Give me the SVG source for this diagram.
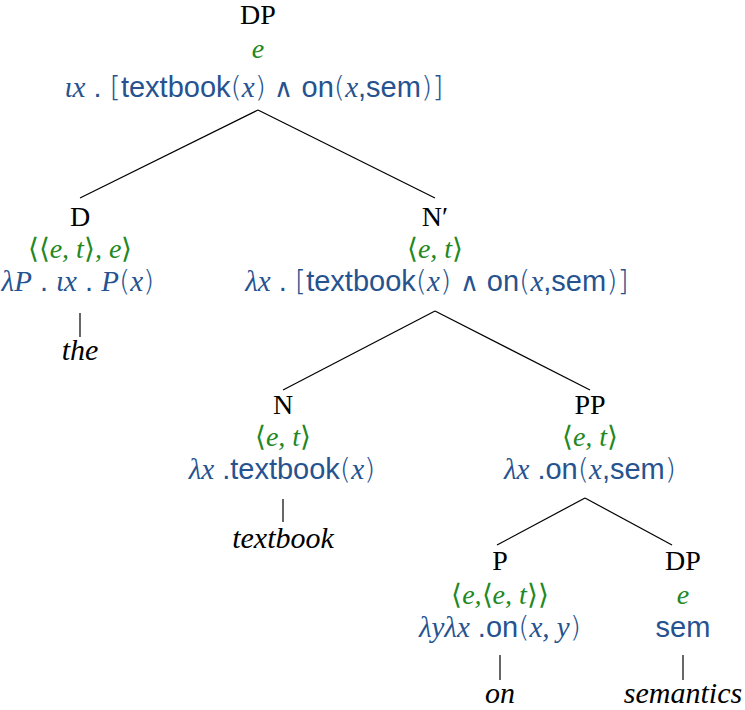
<svg xmlns="http://www.w3.org/2000/svg" width="745" height="710" viewBox="0 0 745 710">
<style>
text{font-size:29px;text-anchor:middle;font-family:"Liberation Serif","DejaVu Serif",serif}
.lab{fill:#000;font-size:28px}
.w{fill:#000;font-style:italic;font-size:30px}
.ty{fill:#228822;font-style:italic;font-size:28px}
.sem{fill:#26538f;font-size:29px}
.i{font-style:italic;font-family:"Liberation Serif","DejaVu Serif",serif}
.s{font-family:"Liberation Sans","DejaVu Sans",sans-serif;font-style:normal}
.u{font-style:normal;font-family:"DejaVu Sans",sans-serif;font-weight:200;font-size:26px}
.ub{font-style:normal;font-family:"DejaVu Sans",sans-serif;font-weight:300}
line{stroke:#000;stroke-width:1.2}
</style>
<g id="connectors">
<line x1="258" y1="110" x2="80" y2="198"/>
<line x1="258" y1="110" x2="435" y2="198"/>
<line x1="80" y1="313" x2="80" y2="337"/>
<line x1="435" y1="311" x2="283" y2="390"/>
<line x1="435" y1="311" x2="590" y2="390"/>
<line x1="283" y1="499" x2="283" y2="522"/>
<line x1="585" y1="498" x2="497" y2="545"/>
<line x1="585" y1="498" x2="672" y2="545"/>
<line x1="500" y1="655" x2="500" y2="680"/>
<line x1="683" y1="655" x2="683" y2="680"/>
</g>
<g id="node-DP-root">
<text class="lab" x="258" y="24">DP</text>
<text class="ty" x="258" y="58">e</text>
<text class="sem" x="254" y="97"><tspan class="i">ιx</tspan><tspan class="s"> . </tspan><tspan class="ub">[</tspan><tspan class="s">textbook</tspan><tspan class="ub">(</tspan><tspan class="i">x</tspan><tspan class="ub">)</tspan><tspan class="u"> ∧ </tspan><tspan class="s">on</tspan><tspan class="ub">(</tspan><tspan class="i">x</tspan><tspan class="s">,sem</tspan><tspan class="ub">)]</tspan></text>
</g>
<g id="node-D">
<text class="lab" x="80" y="226">D</text>
<text class="ty" x="80" y="258"><tspan class="ub">⟨⟨</tspan>e, t<tspan class="ub">⟩</tspan>, e<tspan class="ub">⟩</tspan></text>
<text class="sem" x="78" y="291"><tspan class="i">λP</tspan><tspan class="s"> . </tspan><tspan class="i">ιx</tspan><tspan class="s"> . </tspan><tspan class="i">P</tspan><tspan class="ub">(</tspan><tspan class="i">x</tspan><tspan class="ub">)</tspan></text>
<text class="w" x="80" y="360">the</text>
</g>
<g id="node-Nbar">
<text class="lab" x="435" y="226">N′</text>
<text class="ty" x="435" y="258"><tspan class="ub">⟨</tspan>e, t<tspan class="ub">⟩</tspan></text>
<text class="sem" x="437" y="291"><tspan class="i">λx</tspan><tspan class="s"> . </tspan><tspan class="ub">[</tspan><tspan class="s">textbook</tspan><tspan class="ub">(</tspan><tspan class="i">x</tspan><tspan class="ub">)</tspan><tspan class="u"> ∧ </tspan><tspan class="s">on</tspan><tspan class="ub">(</tspan><tspan class="i">x</tspan><tspan class="s">,sem</tspan><tspan class="ub">)]</tspan></text>
</g>
<g id="node-N">
<text class="lab" x="283" y="414">N</text>
<text class="ty" x="283" y="446"><tspan class="ub">⟨</tspan>e, t<tspan class="ub">⟩</tspan></text>
<text class="sem" x="282" y="479"><tspan class="i">λx</tspan><tspan class="s"> .textbook</tspan><tspan class="ub">(</tspan><tspan class="i">x</tspan><tspan class="ub">)</tspan></text>
<text class="w" x="283" y="548">textbook</text>
</g>
<g id="node-PP">
<text class="lab" x="590" y="414">PP</text>
<text class="ty" x="590" y="446"><tspan class="ub">⟨</tspan>e, t<tspan class="ub">⟩</tspan></text>
<text class="sem" x="590" y="479"><tspan class="i">λx</tspan><tspan class="s"> .on</tspan><tspan class="ub">(</tspan><tspan class="i">x</tspan><tspan class="s">,sem</tspan><tspan class="ub">)</tspan></text>
</g>
<g id="node-P">
<text class="lab" x="500" y="570">P</text>
<text class="ty" x="500" y="604"><tspan class="ub">⟨</tspan>e,<tspan class="ub">⟨</tspan>e, t<tspan class="ub">⟩⟩</tspan></text>
<text class="sem" x="500" y="637"><tspan class="i">λyλx</tspan><tspan class="s"> .on</tspan><tspan class="ub">(</tspan><tspan class="i">x, y</tspan><tspan class="ub">)</tspan></text>
<text class="w" x="500" y="703">on</text>
</g>
<g id="node-DP-sem">
<text class="lab" x="683" y="570">DP</text>
<text class="ty" x="683" y="604">e</text>
<text class="sem s" x="683" y="637">sem</text>
<text class="w" x="683" y="703">semantics</text>
</g>
</svg>
